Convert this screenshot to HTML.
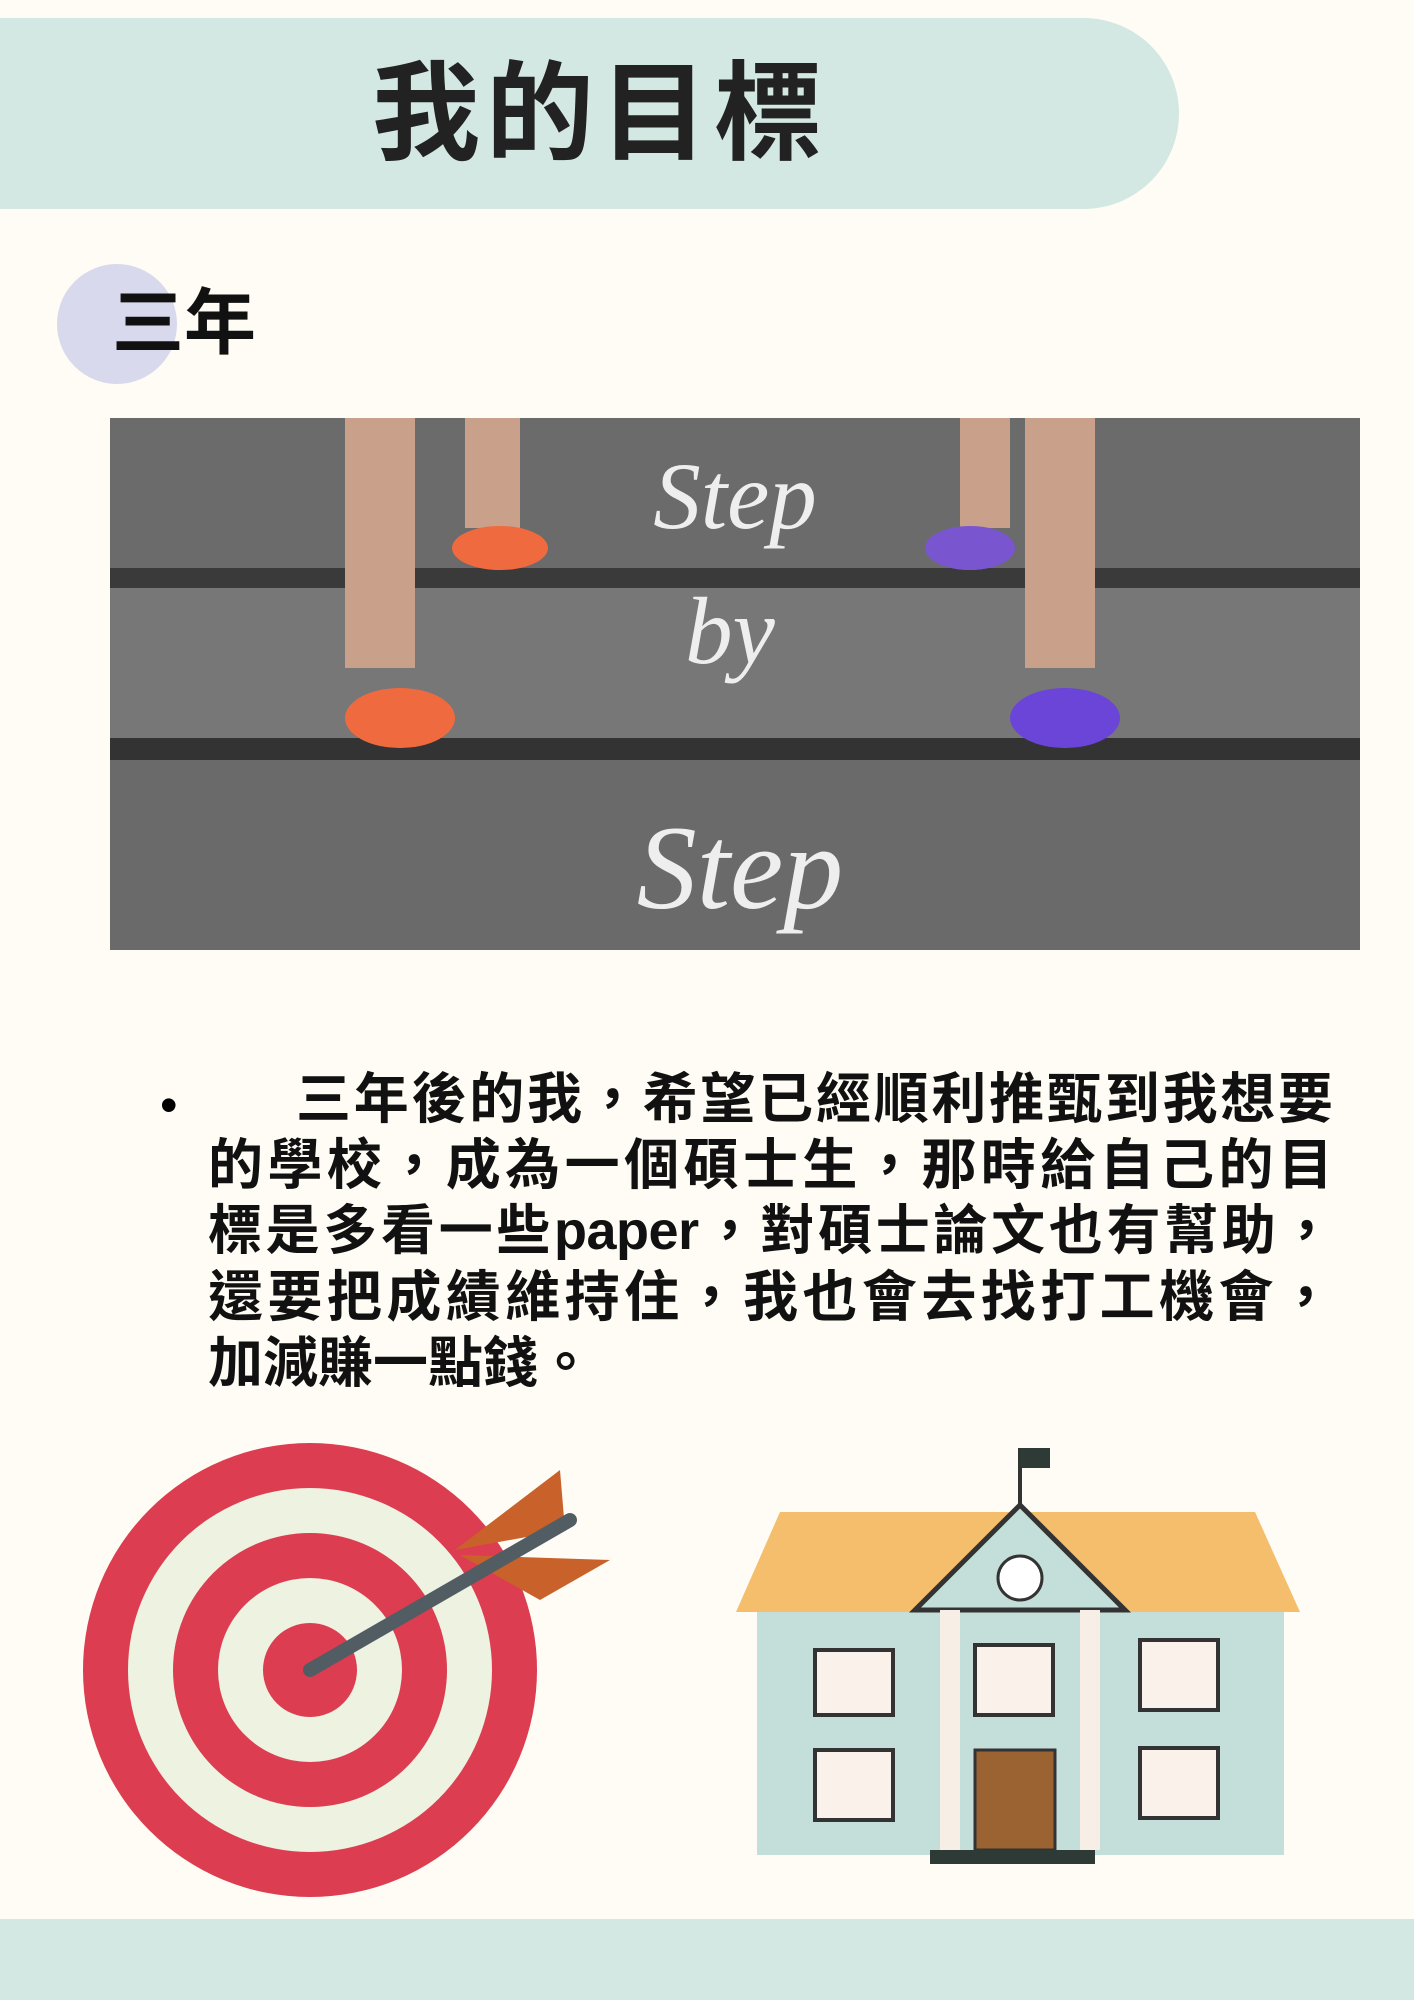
<!DOCTYPE html>
<html><head><meta charset="utf-8">
<style>
body{margin:0;width:1414px;height:2000px;background:#fefcf4;position:relative;overflow:hidden;font-family:"Liberation Sans","Noto Sans CJK TC",sans-serif;}
.abs{position:absolute;}
.ln{position:absolute;font-size:55px;line-height:66px;font-weight:bold;color:#111;white-space:nowrap;}
.j{text-align:justify;text-align-last:justify;white-space:normal;}
</style></head><body>
<div class="abs" style="left:0;top:18px;width:1179px;height:191px;background:#d3e8e2;border-radius:0 96px 96px 0;"></div>
<div class="abs" style="left:0;top:18px;width:1200px;height:191px;line-height:191px;text-align:center;font-size:108px;font-weight:bold;color:#222;letter-spacing:6px;">我的目標</div>
<div class="abs" style="left:57px;top:264px;width:120px;height:120px;border-radius:50%;background:#d9d9ee;"></div>
<div class="abs" style="left:112px;top:282px;font-size:72px;font-weight:bold;color:#111;line-height:84px;">三年</div>
<svg class="abs" style="left:110px;top:418px" width="1250" height="532">
<rect width="1250" height="532" fill="#555"/>
<rect y="0" width="1250" height="150" fill="#6b6b6b"/>
<rect y="150" width="1250" height="20" fill="#3a3a3a"/>
<rect y="170" width="1250" height="150" fill="#777"/>
<rect y="320" width="1250" height="22" fill="#333"/>
<rect y="342" width="1250" height="190" fill="#6a6a6a"/>
<rect x="235" y="0" width="70" height="250" fill="#c9a08a"/>
<rect x="915" y="0" width="70" height="250" fill="#c9a08a"/>
<rect x="355" y="0" width="55" height="110" fill="#c9a08a"/>
<rect x="850" y="0" width="50" height="110" fill="#c9a08a"/>
<ellipse cx="390" cy="130" rx="48" ry="22" fill="#f06a40"/>
<ellipse cx="860" cy="130" rx="45" ry="22" fill="#7a55d0"/>
<ellipse cx="290" cy="300" rx="55" ry="30" fill="#f06a40"/>
<ellipse cx="955" cy="300" rx="55" ry="30" fill="#6a45d8"/>
<text x="625" y="110" font-family="Liberation Serif,serif" font-style="italic" font-size="95" fill="#eee" text-anchor="middle">Step</text>
<text x="620" y="245" font-family="Liberation Serif,serif" font-style="italic" font-size="95" fill="#eee" text-anchor="middle">by</text>
<text x="630" y="490" font-family="Liberation Serif,serif" font-style="italic" font-size="120" fill="#eee" text-anchor="middle">Step</text>
</svg>
<div class="abs" style="left:160px;top:1072px;font-size:50px;line-height:66px;">•</div>
<div>
<div class="ln j" style="left:296px;top:1066px;width:1037px;">三年後的我，希望已經順利推甄到我想要</div>
<div class="ln j" style="left:208px;top:1132px;width:1125px;">的學校，成為一個碩士生，那時給自己的目</div>
<div class="ln j" style="left:208px;top:1198px;width:1125px;font-size:54px;letter-spacing:-0.5px;">標是多看一些paper，對碩士論文也有幫助，</div>
<div class="ln j" style="left:208px;top:1264px;width:1125px;">還要把成績維持住，我也會去找打工機會，</div>
<div class="ln" style="left:208px;top:1330px;">加減賺一點錢。</div>
</div>
<svg class="abs" style="left:60px;top:1420px" width="560" height="500">
<circle cx="250" cy="250" r="227" fill="#dc3d50"/>
<circle cx="250" cy="250" r="182" fill="#edf2e1"/>
<circle cx="250" cy="250" r="137" fill="#dc3d50"/>
<circle cx="250" cy="250" r="92" fill="#edf2e1"/>
<circle cx="250" cy="250" r="47" fill="#dc3d50"/>
<path d="M395 130 L500 50 L505 110 Z M400 135 L550 140 L480 180 Z" fill="#c8622a"/>
<line x1="250" y1="250" x2="510" y2="100" stroke="#525c63" stroke-width="14" stroke-linecap="round"/>
</svg>
<svg class="abs" style="left:730px;top:1440px" width="580" height="430">
<rect x="27" y="170" width="527" height="245" fill="#c4dfd9"/>
<polygon points="6,172 570,172 525,72 50,72" fill="#f5be6c"/>
<polygon points="185,170 290,65 395,170" fill="#c4dfd9" stroke="#333" stroke-width="5"/>
<circle cx="290" cy="138" r="22" fill="#fff" stroke="#333" stroke-width="3"/>
<line x1="290" y1="65" x2="290" y2="8" stroke="#333" stroke-width="4"/>
<rect x="290" y="8" width="30" height="20" fill="#2d3a36"/>
<rect x="210" y="170" width="20" height="240" fill="#f7efe6"/>
<rect x="350" y="170" width="20" height="240" fill="#f7efe6"/>
<rect x="245" y="310" width="80" height="100" fill="#9b6232" stroke="#333" stroke-width="3"/>
<rect x="200" y="410" width="165" height="14" fill="#2d3a36"/>
<g fill="#faf1ea" stroke="#333" stroke-width="4">
<rect x="85" y="210" width="78" height="65"/><rect x="245" y="205" width="78" height="70"/><rect x="410" y="200" width="78" height="70"/>
<rect x="85" y="310" width="78" height="70"/><rect x="410" y="308" width="78" height="70"/>
</g>
</svg>
<div class="abs" style="left:0;top:1919px;width:1414px;height:81px;background:#d3e8e2;"></div>
</body></html>
